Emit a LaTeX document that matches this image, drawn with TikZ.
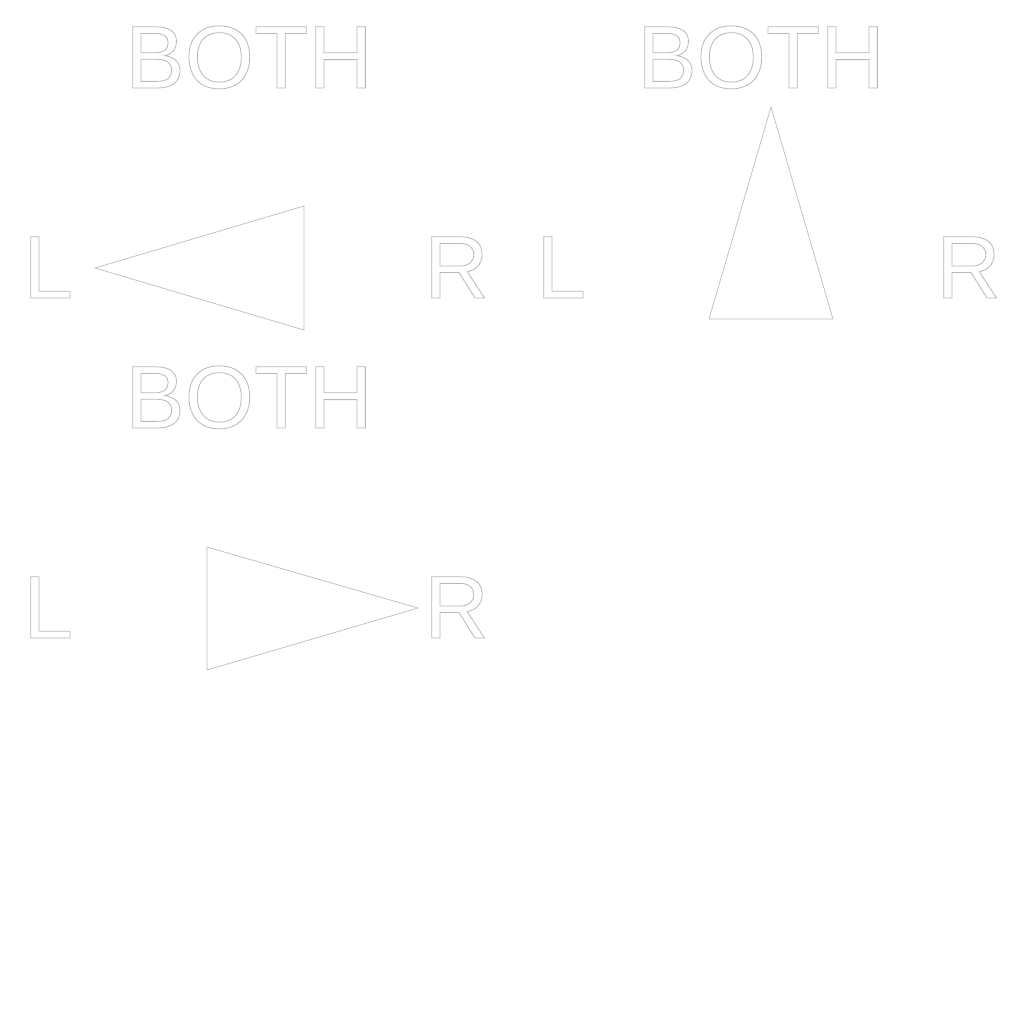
\documentclass[tikz,border=0pt]{standalone}
\usepackage{fontspec}
\setmainfont{Liberation Sans}
\newcommand\outltext[1]{{\color{white}\special{pdf:literal direct 2 Tr 0.4 w 0.72 G}#1\special{pdf:literal direct 0 Tr}}}
\tikzset{
  lbl/.style={inner sep=0pt, font=\fontsize{44.5}{52}\selectfont},
  tri/.style={draw=black!26, line width=0.35pt, fill=white}
}
\begin{document}
\begin{tikzpicture}[x=0.5pt,y=-0.5pt]
\useasboundingbox[fill=white] (0,0) rectangle (1024,1024);
% panel 1
\node[lbl, anchor=base] (b1) at (249,88) {\outltext{BOTH}};
\node[lbl, anchor=base west] (l1) at (23,298) {\outltext{L}};
\node[lbl, anchor=base west] (r1) at (424,298) {\outltext{R}};
\draw[tri] (95,268) -- (304,206) -- (304,330) -- cycle;
% panel 2
\node[lbl, anchor=base] (b2) at (761,88) {\outltext{BOTH}};
\node[lbl, anchor=base west] (l2) at (536,298) {\outltext{L}};
\node[lbl, anchor=base west] (r2) at (936,298) {\outltext{R}};
\draw[tri] (771,107) -- (833,319) -- (709,319) -- cycle;
% panel 3
\node[lbl, anchor=base] (b3) at (249,428) {\outltext{BOTH}};
\node[lbl, anchor=base west] (l3) at (23,638) {\outltext{L}};
\node[lbl, anchor=base west] (r3) at (424,638) {\outltext{R}};
\draw[tri] (207,547) -- (418,608) -- (207,670) -- cycle;
\end{tikzpicture}
\end{document}
